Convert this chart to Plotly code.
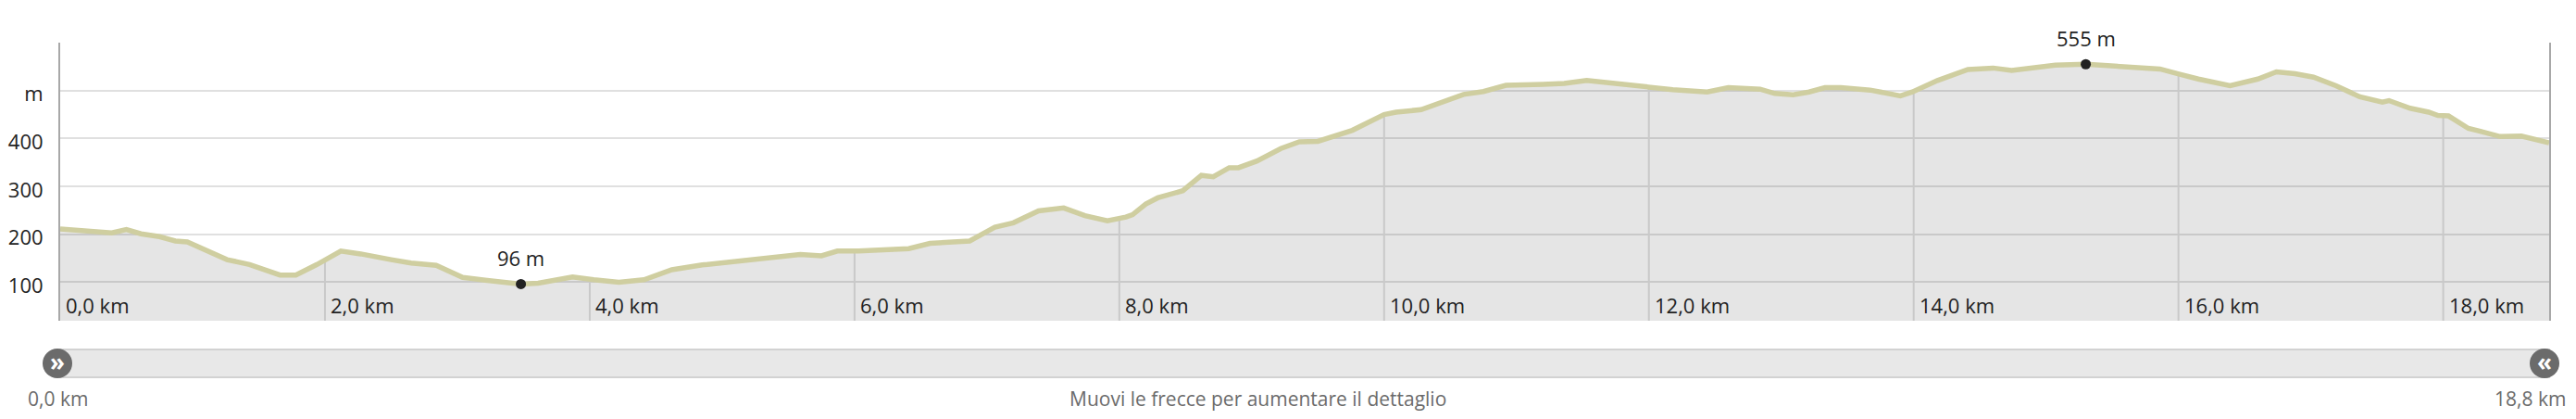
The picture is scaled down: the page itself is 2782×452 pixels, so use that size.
import numpy as np
import plotly.graph_objects as go

# ---- data -------------------------------------------------------------
km = [0.00, 0.21, 0.39, 0.50, 0.61, 0.75, 0.87, 0.96, 1.10, 1.26, 1.43, 1.57, 1.66, 1.78,
      1.94, 2.12, 2.27, 2.50, 2.65, 2.84, 2.93, 3.04, 3.21, 3.48, 3.61, 3.87, 4.03, 4.22,
      4.41, 4.62, 4.85, 5.09, 5.35, 5.47, 5.59, 5.75, 5.87, 6.03, 6.22, 6.41, 6.57, 6.73,
      6.87, 7.06, 7.20, 7.39, 7.58, 7.74, 7.91, 8.05, 8.10, 8.20, 8.29, 8.48, 8.62, 8.71,
      8.83, 8.90, 9.04, 9.22, 9.36, 9.50, 9.76, 10.00, 10.09, 10.28, 10.46, 10.60, 10.75,
      10.92, 11.20, 11.36, 11.53, 11.71, 11.95, 12.18, 12.44, 12.60, 12.84, 12.95, 13.09,
      13.21, 13.33, 13.45, 13.67, 13.90, 13.99, 14.18, 14.41, 14.60, 14.74, 14.86, 15.07,
      15.30, 15.49, 15.70, 15.86, 16.01, 16.15, 16.39, 16.60, 16.74, 16.88, 17.02, 17.19,
      17.37, 17.54, 17.59, 17.75, 17.89, 17.96, 18.04, 18.19, 18.28, 18.43, 18.59, 18.68,
      18.80]
elev = [211, 208, 203, 210, 201, 195, 186, 184, 166, 147, 137, 124, 115, 115,
        137, 165, 159, 147, 140, 135, 124, 110, 104, 96, 98, 111, 105, 100,
        105, 126, 136, 143, 150, 155, 158, 155, 165, 165, 167, 170, 181, 183,
        186, 215, 224, 249, 255, 239, 228, 236, 241, 263, 276, 291, 323, 320,
        339, 339, 353, 379, 393, 394, 417, 450, 455, 460, 479, 492, 498,
        511, 513, 515, 521, 516, 507, 502, 497, 506, 503, 494, 491,
        497, 506, 506, 501, 489, 497, 521, 544, 547, 542, 546, 553,
        555, 552, 550, 545, 534, 524, 510, 524, 539, 535, 528, 510,
        487, 476, 479, 463, 455, 448, 447, 421, 415, 404, 405, 399,
        391]

x_ticks = [0, 2, 4, 6, 8, 10, 12, 14, 16, 18]
x_tick_labels = ["0,0 km", "2,0 km", "4,0 km", "6,0 km", "8,0 km", "10,0 km",
                 "12,0 km", "14,0 km", "16,0 km", "18,0 km"]
y_ticks = [100, 200, 300, 400, 500]
y_tick_labels = ["100", "200", "300", "400", "m"]
total_km = 18.8
start_label = "0,0 km"
end_label = "18,8 km"
hint_text = "Muovi le frecce per aumentare il dettaglio"

Y_MIN, Y_MAX = 19.5, 600

FONT = "Open Sans"
TXT = "#222222"
GREY_TXT = "#6b6b6b"

km_a = np.array(km)
el_a = np.array(elev)

fig = go.Figure()

# vertical grid segments only beneath the profile
vx, vy = [], []
for t in x_ticks[1:]:
    vx += [t, t, None]
    vy += [Y_MIN, float(np.interp(t, km_a, el_a)), None]
fig.add_trace(go.Scatter(x=vx, y=vy, mode="lines",
                         line=dict(color="#e0e0e0", width=2),
                         hoverinfo="skip", showlegend=False))

# profile
fig.add_trace(go.Scatter(x=km, y=elev, mode="lines", fill="tozeroy",
                         fillcolor="rgba(0,0,0,0.10)",
                         line=dict(color="#cfcea0", width=5.5),
                         showlegend=False))

# min / max markers
i_min = int(np.argmin(el_a))
i_max = int(np.argmax(el_a))
fig.add_trace(go.Scatter(x=[km[i_min], km[i_max]], y=[elev[i_min], elev[i_max]],
                         mode="markers", marker=dict(size=11, color="#222222"),
                         cliponaxis=False, showlegend=False))

ann = []
for i in (i_min, i_max):
    ann.append(dict(x=km[i], y=elev[i], xref="x", yref="y", text=f"{elev[i]} m",
                    showarrow=False, yshift=28, xanchor="center", yanchor="middle",
                    font=dict(family=FONT, size=22, color=TXT)))

# x tick labels inside the plot
for t, lab in zip(x_ticks, x_tick_labels):
    ann.append(dict(x=t, y=52, xref="x", yref="y", text=lab, showarrow=False,
                    xanchor="left", yanchor="middle", xshift=4,
                    font=dict(family=FONT, size=22, color=TXT)))

# slider bar
SL_Y = -0.1533
shapes = [
    dict(type="rect", xref="paper", yref="paper", x0=0, x1=1,
         y0=-0.2033, y1=-0.1033, fillcolor="#e8e8e8",
         line=dict(color="#d2d2d2", width=2), layer="above"),
    dict(type="circle", xref="paper", yref="paper", xsizemode="pixel", ysizemode="pixel",
         xanchor=0, yanchor=SL_Y, x0=-19, x1=13, y0=-16, y1=16,
         fillcolor="#6b6b6b", line=dict(width=0), layer="above"),
    dict(type="circle", xref="paper", yref="paper", xsizemode="pixel", ysizemode="pixel",
         xanchor=1, yanchor=SL_Y, x0=-21, x1=11, y0=-16, y1=16,
         fillcolor="#6b6b6b", line=dict(width=0), layer="above"),
]
ann.append(dict(x=0, y=SL_Y, xref="paper", yref="paper", text="<b>»</b>", showarrow=False,
                xanchor="center", yanchor="middle", xshift=-3, yshift=2,
                font=dict(family=FONT, size=26, color="white")))
ann.append(dict(x=1, y=SL_Y, xref="paper", yref="paper", text="<b>«</b>", showarrow=False,
                xanchor="center", yanchor="middle", xshift=-5, yshift=2,
                font=dict(family=FONT, size=26, color="white")))
ann.append(dict(x=0, y=-0.28, xref="paper", yref="paper", text=start_label, showarrow=False,
                xanchor="center", yanchor="middle", xshift=-3,
                font=dict(family=FONT, size=21, color=GREY_TXT)))
ann.append(dict(x=1, y=-0.28, xref="paper", yref="paper", text=end_label, showarrow=False,
                xanchor="center", yanchor="middle", xshift=-21,
                font=dict(family=FONT, size=21, color=GREY_TXT)))
ann.append(dict(x=0.4812, y=-0.28, xref="paper", yref="paper", text=hint_text, showarrow=False,
                xanchor="center", yanchor="middle",
                font=dict(family=FONT, size=21, color=GREY_TXT)))

# page body has an 8px default margin -> compensate
fig.update_layout(
    width=2774, height=444,
    margin=dict(l=57, r=29, t=38, b=106),
    paper_bgcolor="white", plot_bgcolor="white",
    showlegend=False,
    annotations=ann, shapes=shapes,
    xaxis=dict(range=[0, total_km], showgrid=False, zeroline=False,
               showticklabels=False, showline=False, ticks="", fixedrange=True),
    yaxis=dict(range=[Y_MIN, Y_MAX], tickvals=y_ticks, ticktext=y_tick_labels,
               showgrid=True, gridcolor="#e0e0e0", gridwidth=2, zeroline=False,
               showline=True, linecolor="#a8a8a8", linewidth=2, mirror=True,
               ticks="", ticklabelstandoff=12, ticklabelshift=4, automargin=False,
               tickfont=dict(family=FONT, size=22, color=TXT), fixedrange=True),
)

fig.write_html("out.html")
